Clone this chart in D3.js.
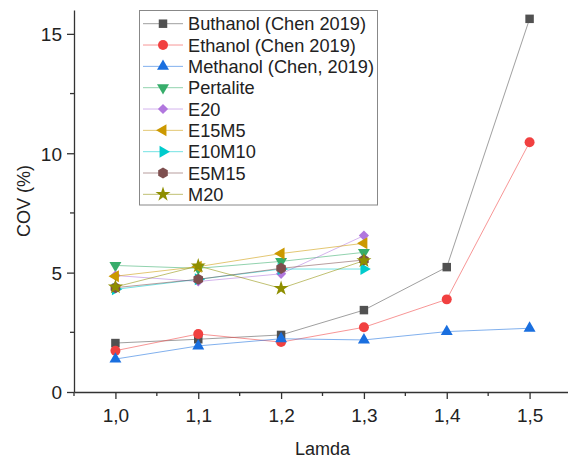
<!DOCTYPE html>
<html>
<head>
<meta charset="utf-8">
<script src="https://cdn.jsdelivr.net/npm/d3@7"></script>
<style>
  body { margin: 0; background: #fff; }
  svg { display: block; font-family: "Liberation Sans", Arial, sans-serif; }
</style>
</head>
<body>
<svg id="chart" width="568" height="459"></svg>
<script>
// Lambda values on the x axis
const lamdaAll = [1.0, 1.1, 1.2, 1.3, 1.4, 1.5];
const lamdaShort = [1.0, 1.1, 1.2, 1.3];

// COV (%) per fuel
const buthanol = [2.05, 2.21, 2.39, 3.43, 5.23, 15.63];
const ethanol  = [1.73, 2.43, 2.09, 2.71, 3.88, 10.46];
const methanol = [1.38, 1.93, 2.23, 2.18, 2.53, 2.67];
const pertalite = [5.30, 5.18, 5.47, 5.85];
const e20      = [4.88, 4.63, 4.95, 6.55];
const e15m5    = [4.85, 5.25, 5.80, 6.23];
const e10m10   = [4.30, 4.72, 5.15, 5.15];
const e5m15    = [4.37, 4.72, 5.18, 5.53];
const m20      = [4.40, 5.28, 4.34, 5.50];

const seriesNames = ["Buthanol (Chen 2019)", "Ethanol (Chen 2019)", "Methanol (Chen, 2019)",
  "Pertalite", "E20", "E15M5", "E10M10", "E5M15", "M20"];
const seriesValues = [buthanol, ethanol, methanol, pertalite, e20, e15m5, e10m10, e5m15, m20];
const seriesColors = ["#515151", "#F14040", "#1A6FDF", "#37AD6B", "#B177DE",
  "#CC9900", "#00CBCC", "#7D4E4E", "#8E8E00"];

const yTicks = [0, 5, 10, 15];
const yMinorTicks = [2.5, 7.5, 12.5];
const xTicks = [1.0, 1.1, 1.2, 1.3, 1.4, 1.5];
const xMinorTicks = [0.95, 1.05, 1.15, 1.25, 1.35, 1.45, 1.55];

const svg = d3.select("#chart");
const x = d3.scaleLinear().domain([0.95, 1.55]).range([74, 571]);
const y = d3.scaleLinear().domain([0, 16]).range([392, 10]);
const axisColor = "#333";

// Marker shapes
const hexagon = {
  draw(ctx, size) {
    const r = Math.sqrt(size / (1.5 * Math.sqrt(3)));
    for (let i = 0; i < 6; i++) {
      const a = Math.PI / 6 + i * Math.PI / 3;
      const px = r * Math.cos(a), py = r * Math.sin(a);
      if (i === 0) ctx.moveTo(px, py); else ctx.lineTo(px, py);
    }
    ctx.closePath();
  }
};
const markers = [
  { type: d3.symbolSquare, size: 72, rot: 0 },
  { type: d3.symbolCircle, size: 78, rot: 0 },
  { type: d3.symbolTriangle, size: 62, rot: 0 },
  { type: d3.symbolTriangle, size: 62, rot: 180 },
  { type: d3.symbolSquare, size: 52, rot: 45 },
  { type: d3.symbolTriangle, size: 62, rot: -90 },
  { type: d3.symbolTriangle, size: 62, rot: 90 },
  { type: hexagon, size: 80, rot: 0 },
  { type: d3.symbolStar, size: 70, rot: 0 }
];

// Axes
const gx = svg.append("g").attr("transform", "translate(0,392)")
  .call(d3.axisBottom(x).tickValues(xTicks).tickSize(7).tickSizeOuter(0)
    .tickFormat(d => d3.format(".1f")(d).replace(".", ",")));
gx.append("g").selectAll("line").data(xMinorTicks).join("line")
  .attr("x1", d => x(d)).attr("x2", d => x(d)).attr("y1", 0).attr("y2", 4);

const gy = svg.append("g").attr("transform", "translate(74,0)")
  .call(d3.axisLeft(y).tickValues(yTicks).tickSize(7).tickSizeOuter(0));
gy.append("g").selectAll("line").data(yMinorTicks).join("line")
  .attr("x1", 0).attr("x2", -4).attr("y1", d => y(d)).attr("y2", d => y(d));

svg.selectAll(".domain, .tick line, g g line")
  .attr("stroke", axisColor).attr("stroke-width", 1.3);
gx.selectAll(".tick text").attr("font-size", 19).attr("fill", "#222")
  .attr("font-family", "Liberation Sans, Arial, sans-serif").attr("dy", "1.05em");
gy.selectAll(".tick text").attr("font-size", 19).attr("fill", "#222")
  .attr("font-family", "Liberation Sans, Arial, sans-serif").attr("x", -12).attr("dy", "0.36em");

// Axis titles
svg.append("text").attr("x", (74 + 571) / 2).attr("y", 455)
  .attr("text-anchor", "middle").attr("font-size", 18).attr("fill", "#222").text("Lamda");
svg.append("text").attr("transform", "translate(30,201) rotate(-90)")
  .attr("text-anchor", "middle").attr("font-size", 18).attr("fill", "#222").text("COV (%)");

// Series lines and markers
const line = d3.line().x(d => x(d[0])).y(d => y(d[1]));
seriesValues.forEach((vals, i) => {
  const xs = vals.length === 6 ? lamdaAll : lamdaShort;
  const pts = vals.map((v, j) => [xs[j], v]);
  const g = svg.append("g");
  g.append("path").datum(pts).attr("d", line)
    .attr("fill", "none").attr("stroke", seriesColors[i])
    .attr("stroke-width", 1).attr("stroke-opacity", 0.55);
  const m = markers[i];
  g.selectAll("path.mk").data(pts).join("path").attr("class", "mk")
    .attr("d", d3.symbol().type(m.type).size(m.size))
    .attr("transform", d => `translate(${x(d[0])},${y(d[1])}) rotate(${m.rot})`)
    .attr("fill", seriesColors[i]);
});

// Legend
const legend = svg.append("g");
legend.append("rect").attr("x", 139.5).attr("y", 10.5).attr("width", 238).attr("height", 194.5)
  .attr("fill", "#fff").attr("stroke", "#888").attr("stroke-width", 1);
seriesNames.forEach((name, i) => {
  const cy = 23.7 + i * 21.33;
  const row = legend.append("g");
  row.append("line").attr("x1", 143).attr("x2", 183).attr("y1", cy).attr("y2", cy)
    .attr("stroke", seriesColors[i]).attr("stroke-width", 1).attr("stroke-opacity", 0.55);
  const m = markers[i];
  row.append("path").attr("d", d3.symbol().type(m.type).size(m.size))
    .attr("transform", `translate(163,${cy}) rotate(${m.rot})`).attr("fill", seriesColors[i]);
  row.append("text").attr("x", 188).attr("y", cy).attr("dy", "0.36em")
    .attr("font-size", 18.2).attr("fill", "#222").text(name);
});
</script>
</body>
</html>
